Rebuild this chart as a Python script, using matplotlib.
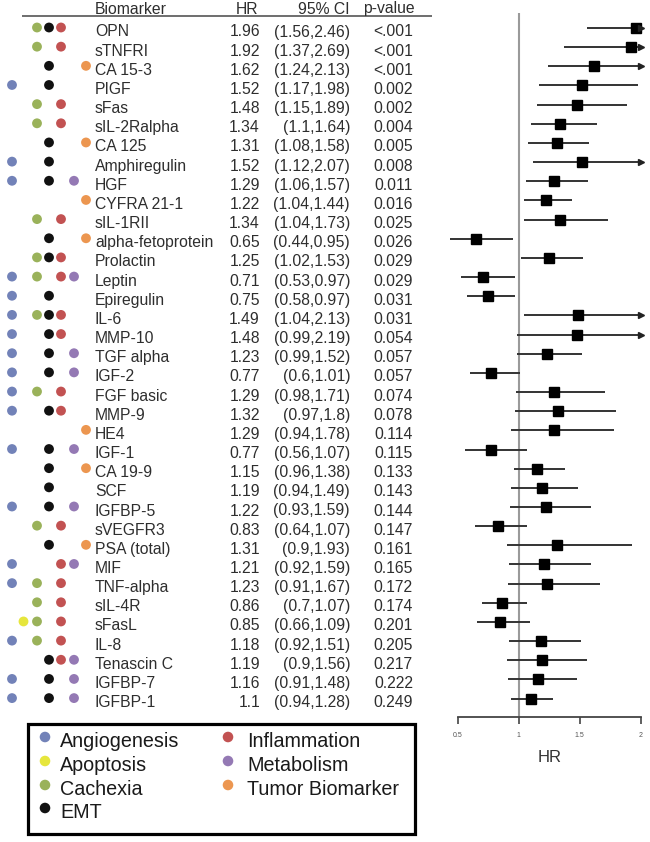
import matplotlib
matplotlib.use("Agg")
import matplotlib.pyplot as plt
from matplotlib.patches import Rectangle

plt.rcParams['font.family'] = ['Liberation Sans', 'DejaVu Sans']

# ---------------- data ----------------
biomarkers = ["OPN", "sTNFRI", "CA 15-3", "PIGF", "sFas", "sIL-2Ralpha", "CA 125",
              "Amphiregulin", "HGF", "CYFRA 21-1", "sIL-1RII", "alpha-fetoprotein",
              "Prolactin", "Leptin", "Epiregulin", "IL-6", "MMP-10", "TGF alpha",
              "IGF-2", "FGF basic", "MMP-9", "HE4", "IGF-1", "CA 19-9", "SCF",
              "IGFBP-5", "sVEGFR3", "PSA (total)", "MIF", "TNF-alpha", "sIL-4R",
              "sFasL", "IL-8", "Tenascin C", "IGFBP-7", "IGFBP-1"]
hr = [1.96, 1.92, 1.62, 1.52, 1.48, 1.34, 1.31, 1.52, 1.29, 1.22, 1.34, 0.65,
      1.25, 0.71, 0.75, 1.49, 1.48, 1.23, 0.77, 1.29, 1.32, 1.29, 0.77, 1.15,
      1.19, 1.22, 0.83, 1.31, 1.21, 1.23, 0.86, 0.85, 1.18, 1.19, 1.16, 1.1]
ci_low = [1.56, 1.37, 1.24, 1.17, 1.15, 1.1, 1.08, 1.12, 1.06, 1.04, 1.04, 0.44,
          1.02, 0.53, 0.58, 1.04, 0.99, 0.99, 0.6, 0.98, 0.97, 0.94, 0.56, 0.96,
          0.94, 0.93, 0.64, 0.9, 0.92, 0.91, 0.7, 0.66, 0.92, 0.9, 0.91, 0.94]
ci_high = [2.46, 2.69, 2.13, 1.98, 1.89, 1.64, 1.58, 2.07, 1.57, 1.44, 1.73, 0.95,
           1.53, 0.97, 0.97, 2.13, 2.19, 1.52, 1.01, 1.71, 1.8, 1.78, 1.07, 1.38,
           1.49, 1.59, 1.07, 1.93, 1.59, 1.67, 1.07, 1.09, 1.51, 1.56, 1.48, 1.28]
p_values = ["<.001", "<.001", "<.001", "0.002", "0.002", "0.004", "0.005", "0.008",
            "0.011", "0.016", "0.025", "0.026", "0.029", "0.029", "0.031", "0.031",
            "0.054", "0.057", "0.057", "0.074", "0.078", "0.114", "0.115", "0.133",
            "0.143", "0.144", "0.147", "0.161", "0.165", "0.172", "0.174", "0.201",
            "0.205", "0.217", "0.222", "0.249"]
categories = ["Angiogenesis", "Apoptosis", "Cachexia", "EMT",
              "Inflammation", "Metabolism", "Tumor Biomarker"]
category_codes = ["A", "P", "C", "E", "I", "M", "T"]
category_colors = ["#7282b8", "#e6e63c", "#9ab25a", "#111111",
                   "#c25252", "#9479b4", "#ec9650"]
# category membership per biomarker (codes above)
membership = ["CEI", "CI", "ET", "AE", "CI", "CI", "ET", "AE", "AEM", "T", "CI", "ET",
              "CEI", "ACIM", "AE", "ACEI", "AEI", "AEM", "AEM", "ACI", "AEI", "T",
              "AEM", "ET", "E", "AEM", "CI", "ET", "AIM", "ACI", "CI", "PCI", "ACI",
              "EIM", "AEM", "AEM"]
header = ["Biomarker", "HR", "95% CI", "p-value"]
x_ticks = [0.5, 1, 1.5, 2]
x_tick_labels = ["0.5", "1", "1.5", "2"]
x_label = "HR"

# ---------------- layout ----------------
W, H = 650, 842
fig = plt.figure(figsize=(W / 100, H / 100), dpi=100)
base = fig.add_axes([0, 0, 1, 1])
base.set_xlim(0, W)
base.set_ylim(H, 0)
base.axis('off')

TXT = '#2e2e2e'
FS = 11.3
ROW0_BASE = 36.5
ROW_STEP = 19.16
col_name_x, col_hr_x, col_ci_x, col_p_x = 95, 260, 350, 413
dot_x = [12, 23.5, 37, 49, 61, 74, 86]

# header
hy = 13.5
base.text(col_name_x, hy, header[0], ha='left', va='baseline', fontsize=FS, color=TXT)
base.text(col_hr_x - 2, hy, header[1], ha='right', va='baseline', fontsize=FS, color=TXT)
base.text(col_ci_x, hy, header[2], ha='right', va='baseline', fontsize=FS, color=TXT)
base.text(col_p_x + 2, hy, header[3], ha='right', va='baseline', fontsize=FS, color=TXT)
base.plot([22, 432], [15.5, 15.5], color='#555555', lw=1.2, solid_capstyle='butt')

# table rows
dots = {k: ([], []) for k in range(len(categories))}
for i, name in enumerate(biomarkers):
    yb = ROW0_BASE + i * ROW_STEP
    base.text(col_name_x, yb, name, ha='left', va='baseline', fontsize=FS, color=TXT)
    base.text(col_hr_x, yb, f"{hr[i]:g}", ha='right', va='baseline', fontsize=FS, color=TXT)
    base.text(col_ci_x, yb, f"({ci_low[i]:g},{ci_high[i]:g})", ha='right',
              va='baseline', fontsize=FS, color=TXT)
    base.text(col_p_x, yb, p_values[i], ha='right', va='baseline', fontsize=FS, color=TXT)
    for code in membership[i]:
        k = category_codes.index(code)
        dots[k][0].append(dot_x[k])
        dots[k][1].append(yb - 9)
for k, (xs, ys) in dots.items():
    base.scatter(xs, ys, s=50, color=category_colors[k], edgecolors='none', zorder=3)

# legend box
base.add_patch(Rectangle((28, 724), 387, 110, fill=False, ec='black', lw=2.3))
leg_dot_x = [45, 228]
leg_txt_x = [60, 247]
leg_base = [747, 771, 795, 818]
for k, cat in enumerate(categories):
    col = 0 if k < 4 else 1
    row = k if k < 4 else k - 4
    yb = leg_base[row]
    base.scatter([leg_dot_x[col]], [yb - 10], s=58, color=category_colors[k],
                 edgecolors='none', zorder=3)
    base.text(leg_txt_x[col], yb, cat, ha='left', va='baseline', fontsize=14.2,
              color='#1a1a1a')

# ---------------- forest plot ----------------
fx0, fx1 = 457.7, 640.7
fy_top, fy_bot = 13, 717
row0_y = 28
ax = fig.add_axes([fx0 / W, 1 - fy_bot / H, (fx1 - fx0) / W, (fy_bot - fy_top) / H])
ax.set_xlim(0.5, 2)
ax.set_ylim((fy_bot - row0_y) / ROW_STEP, (fy_top - row0_y) / ROW_STEP)
ax.patch.set_alpha(0)
for s in ['top', 'right', 'left']:
    ax.spines[s].set_visible(False)
ax.spines['bottom'].set_color('#444444')
ax.spines['bottom'].set_linewidth(1.3)
ax.set_yticks([])
ax.set_xticks(x_ticks, x_tick_labels, fontsize=5, color='#555555')
ax.tick_params(axis='x', length=5, width=1.2, color='#444444', pad=6)
ax.axvline(1, color='#9a9a9a', lw=1.5, zorder=1)

rows = list(range(len(biomarkers)))
xmax = ax.get_xlim()[1]
hi_clip = [min(h, xmax) for h in ci_high]
ax.hlines(rows, ci_low, hi_clip, color='#333333', lw=1.4, zorder=2, clip_on=False)
ax.plot(hr, rows, 's', color='black', ms=6.5, zorder=3, clip_on=False)
arrow_rows = [r for r in rows if ci_high[r] > xmax]
ax.plot([xmax] * len(arrow_rows), arrow_rows, '>', color='#222222', ms=4.5,
        zorder=3, clip_on=False)
ax.set_xlabel(x_label, fontsize=12, labelpad=8, color='#333333')

fig.savefig("out.png", dpi=100)
